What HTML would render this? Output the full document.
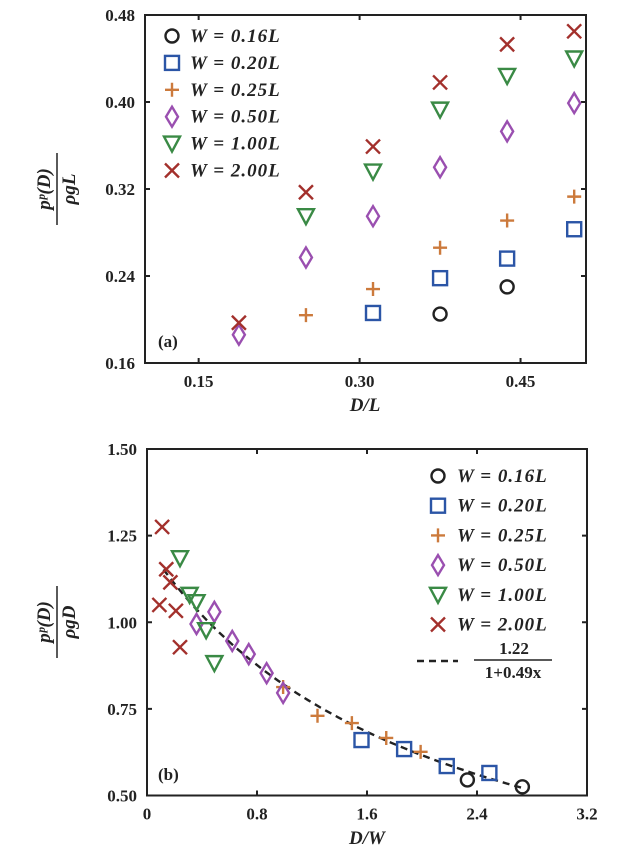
<!DOCTYPE html>
<html><head><meta charset="utf-8"><style>
html,body{margin:0;padding:0;background:#fff;}
svg{display:block;font-family:"Liberation Serif",serif;}
.tk{font-size:17px;font-weight:bold;fill:#222;}
.lg{font-size:19px;font-style:italic;font-weight:bold;fill:#222;letter-spacing:1px;}
.yt{font-size:19px;font-style:italic;font-weight:bold;fill:#222;}
</style></head><body>
<svg id="c" width="630" height="858" viewBox="0 0 630 858" xmlns="http://www.w3.org/2000/svg"></svg>
<script>
// ---- Panel (a) data ----
const aX = [0.1875, 0.25, 0.3125, 0.375, 0.4375, 0.5];
const aW016 = [null, null, null, 0.205, 0.230, null];
const aW020 = [null, null, 0.206, 0.238, 0.256, 0.283];
const aW025 = [null, 0.204, 0.228, 0.266, 0.291, 0.313];
const aW050 = [0.186, 0.257, 0.295, 0.340, 0.373, 0.399];
const aW100 = [null, 0.295, 0.336, 0.393, 0.424, 0.440];
const aW200 = [0.197, 0.317, 0.359, 0.418, 0.453, 0.465];
const aXTicks = [0.15, 0.30, 0.45];
const aYTicks = [0.16, 0.24, 0.32, 0.40, 0.48];
// ---- Panel (b) data ----
const bW016x = [2.33, 2.73];           const bW016y = [0.545, 0.525];
const bW020x = [1.56, 1.87, 2.18, 2.49]; const bW020y = [0.66, 0.634, 0.585, 0.565];
const bW025x = [0.99, 1.24, 1.49, 1.74, 1.99]; const bW025y = [0.813, 0.73, 0.709, 0.666, 0.626];
const bW050x = [0.36, 0.49, 0.62, 0.74, 0.87, 0.99]; const bW050y = [0.995, 1.03, 0.946, 0.908, 0.853, 0.796];
const bW100x = [0.24, 0.31, 0.36, 0.43, 0.49]; const bW100y = [1.185, 1.079, 1.058, 0.977, 0.882];
const bW200x = [0.11, 0.14, 0.17, 0.09, 0.21, 0.24]; const bW200y = [1.275, 1.153, 1.115, 1.05, 1.033, 0.928];
const fitA = 1.22, fitB = 0.49, fitRange = [0.12, 2.75];
const bXTicks = [0, 0.8, 1.6, 2.4, 3.2];
const bYTicks = [0.50, 0.75, 1.00, 1.25, 1.50];
const legendLabels = ["0.16","0.20","0.25","0.50","1.00","2.00"];
const colors = ["#222222","#2b55a6","#cc7a3c","#9a4fb0","#3a8a45","#a3302c"];
const shapes = ["o","s","+","d","v","x"];

const NS = "http://www.w3.org/2000/svg";
const svg = document.getElementById("c");
function mk(tag, attrs, parent){const e=document.createElementNS(NS,tag);for(const k in attrs)e.setAttribute(k,attrs[k]);(parent||svg).appendChild(e);return e;}

function marker(shape, cx, cy, col, g){
  let e; const sw=2.4;
  if(shape==="o") e=mk("circle",{cx,cy,r:6.5,fill:"none",stroke:col,"stroke-width":sw},g);
  else if(shape==="s") e=mk("rect",{x:cx-7,y:cy-7,width:14,height:14,fill:"none",stroke:col,"stroke-width":sw},g);
  else if(shape==="+") e=mk("path",{d:`M${cx-7},${cy}H${cx+7}M${cx},${cy-7}V${cy+7}`,stroke:col,"stroke-width":sw,fill:"none"},g);
  else if(shape==="d") e=mk("path",{d:`M${cx},${cy-10}L${cx+6},${cy}L${cx},${cy+10}L${cx-6},${cy}Z`,stroke:col,"stroke-width":sw,fill:"none"},g);
  else if(shape==="v") e=mk("path",{d:`M${cx-8},${cy-7}H${cx+8}L${cx},${cy+8}Z`,stroke:col,"stroke-width":sw,fill:"none"},g);
  else e=mk("path",{d:`M${cx-7},${cy-7}L${cx+7},${cy+7}M${cx+7},${cy-7}L${cx-7},${cy+7}`,stroke:col,"stroke-width":sw,fill:"none"},g);
  
  
  return e;
}

function axes(L,T,R,B,xs,ys,xt,yt,fmtX,fmtY,name){
  const g=mk("g",{});
  
  
  mk("rect",{x:L,y:T,width:R-L,height:B-T,fill:"none",stroke:"#222","stroke-width":2},g);
  xt.forEach(v=>{const x=xs(v);
    mk("path",{d:`M${x},${B}V${B-5}M${x},${T}V${T+5}`,stroke:"#222","stroke-width":2},g);
    const t=mk("text",{x,y:B+24,"text-anchor":"middle",class:"tk"},g);t.textContent=fmtX(v);
    
    });
  yt.forEach(v=>{const y=ys(v);
    mk("path",{d:`M${L},${y}H${L+5}M${R},${y}H${R-5}`,stroke:"#222","stroke-width":2},g);
    const t=mk("text",{x:L-10,y:y+6,"text-anchor":"end",class:"tk"},g);t.textContent=fmtY(v);
    
    });
  return g;
}

// ---------- Panel (a) ----------
const aL=145,aR=586,aT=15,aB=363;
const axX=v=>aL+(v-0.1)/(0.511-0.1)*(aR-aL);
const ayY=v=>aB-(v-0.16)/(0.32)*(aB-aT);
axes(aL,aT,aR,aB,axX,ayY,aXTicks,aYTicks,v=>v.toFixed(2),v=>v.toFixed(2),"panel-a-axes");
const aSeries=[aW016,aW020,aW025,aW050,aW100,aW200];
aSeries.forEach((s,i)=>{const g=mk("g",{});
  
  
  s.forEach((v,j)=>{if(v!==null)marker(shapes[i],axX(aX[j]),ayY(v),colors[i],g);});});
legendLabels.forEach((l,i)=>{const g=mk("g",{});
  
  
  const y=36+i*26.9; marker(shapes[i],172,y,colors[i],g);
  const t=mk("text",{x:190,y:y+6,class:"lg"},g);t.textContent="W = "+l+"L";});
let ta=mk("text",{x:158,y:347,class:"tk"});ta.textContent="(a)";

let xa=mk("text",{x:365,y:411,"text-anchor":"middle",class:"yt"});xa.textContent="D/L";

function yTitle(cx,cy,num,den,name){const g=mk("g",{transform:`translate(${cx},${cy}) rotate(-90)`});
  
  const a=mk("text",{x:0,y:-7,"text-anchor":"middle",class:"yt"},g);a.textContent=num;
  mk("line",{x1:-36,x2:36,y1:0,y2:0,stroke:"#222","stroke-width":1.5},g);
  const b=mk("text",{x:0,y:18,"text-anchor":"middle",class:"yt"},g);b.textContent=den;}
yTitle(57,189,"pᵖ(D)","ρgL","y-axis-title-a");

// ---------- Panel (b) ----------
const bL=147,bR=587,bT=449,bB=795.5;
const bxX=v=>bL+v/3.2*(bR-bL);
const byY=v=>bB-(v-0.5)/1.0*(bB-bT);
axes(bL,bT,bR,bB,bxX,byY,bXTicks,bYTicks,v=>v===0?"0":v.toFixed(1),v=>v.toFixed(2),"panel-b-axes");
let pts=[];for(let k=0;k<=60;k++){const x=fitRange[0]+(fitRange[1]-fitRange[0])*k/60;pts.push(bxX(x).toFixed(1)+","+byY(fitA/(1+fitB*x)).toFixed(1));}
const fl=mk("polyline",{points:pts.join(" "),fill:"none",stroke:"#222","stroke-width":2.4,"stroke-dasharray":"7,5"});

const bSx=[bW016x,bW020x,bW025x,bW050x,bW100x,bW200x], bSy=[bW016y,bW020y,bW025y,bW050y,bW100y,bW200y];
bSx.forEach((xs,i)=>{const g=mk("g",{});
  
  
  xs.forEach((x,j)=>marker(shapes[i],bxX(x),byY(bSy[i][j]),colors[i],g));});
legendLabels.forEach((l,i)=>{const g=mk("g",{});
  
  
  const y=476+i*29.7; marker(shapes[i],438,y,colors[i],g);
  const t=mk("text",{x:457,y:y+6,class:"lg"},g);t.textContent="W = "+l+"L";});
const lf=mk("g",{});
mk("path",{d:"M417,661H458",stroke:"#222","stroke-width":2.4,"stroke-dasharray":"7,5"},lf);
let n1=mk("text",{x:514,y:654,"text-anchor":"middle",class:"tk"},lf);n1.textContent="1.22";
mk("line",{x1:474,x2:552,y1:660,y2:660,stroke:"#222","stroke-width":1.5},lf);
let n2=mk("text",{x:513,y:678,"text-anchor":"middle",class:"tk"},lf);n2.textContent="1+0.49x";
let tb=mk("text",{x:158,y:780,class:"tk"});tb.textContent="(b)";

let xb=mk("text",{x:367,y:844,"text-anchor":"middle",class:"yt"});xb.textContent="D/W";

yTitle(57,622,"pᵖ(D)","ρgD","y-axis-title-b");
</script>
</body></html>
